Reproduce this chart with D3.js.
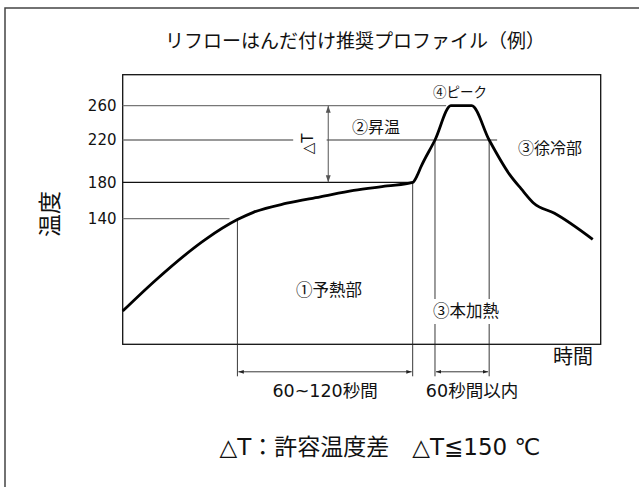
<!DOCTYPE html>
<html>
<head>
<meta charset="utf-8">
<script src="https://cdn.jsdelivr.net/npm/d3@7"></script>
<style>
  body { margin: 0; background: #fff; }
  text { font-family: "DejaVu Sans", "Noto Sans CJK JP", sans-serif; fill: #111; }
  .jp { font-family: "Noto Sans CJK JP", sans-serif; }
</style>
</head>
<body>
<div id="viz"></div>
<script>
// reflow profile, time in s (schematic), temperature in deg C
var curveTime = [0, 21, 52, 72, 82, 103, 124, 145, 166, 182, 185, 187, 196, 206, 219, 230, 243, 250, 258, 271, 295];
var curveTemp = [37, 72, 117, 139, 147, 157, 164, 171, 176, 180, 187, 194, 220, 260, 260, 220, 187, 173, 157, 146, 117];
var tickTemps = [140, 180, 220, 260];

// reference lines: [temp, tStart, tEnd]
var refLines = [[260, 0, 203], [220, 0, 107], [220, 128, 235], [180, 0, 182], [140, 0, 67]];
var preheatSpan = [72, 182];
var mainSpan = [196, 230];
var deltaT = { t: 129, from: 180, to: 260 };

var width = 639, height = 487;
var plot = { left: 122.7, right: 600.7, top: 74.7, bottom: 344.3 };

var svg = d3.select('#viz').append('svg')
    .attr('width', width)
    .attr('height', height);

// outer frame (runs off the page on the right and bottom)
svg.append('rect')
    .attr('x', 5).attr('y', 8)
    .attr('width', 660).attr('height', 500)
    .attr('fill', 'none')
    .attr('stroke', '#444')
    .attr('stroke-width', 1.5);

var x = d3.scaleLinear().domain([0, 300]).range([plot.left, plot.right]);
// the drawing is hand made, so the temperature axis is piecewise
var y = d3.scaleLinear()
    .domain([0, 140, 180, 220, 260, 300])
    .range([plot.bottom, 218.7, 182.3, 140, 105.7, plot.top]);

var defs = svg.append('defs');
function marker(id, color, size) {
    defs.append('marker')
        .attr('id', id)
        .attr('viewBox', '0 0 10 10')
        .attr('refX', 10).attr('refY', 5)
        .attr('markerWidth', size).attr('markerHeight', size)
        .attr('orient', 'auto-start-reverse')
        .append('path')
        .attr('d', 'M0,1.5 L10,5 L0,8.5 Z')
        .attr('fill', color);
}
marker('arr', '#222', 6);
marker('arrg', '#555', 7);

// plot frame
svg.append('rect')
    .attr('x', plot.left).attr('y', plot.top)
    .attr('width', plot.right - plot.left)
    .attr('height', plot.bottom - plot.top)
    .attr('fill', 'none')
    .attr('stroke', '#111')
    .attr('stroke-width', 1.3);

// horizontal reference lines
svg.append('g').selectAll('line')
    .data(refLines).enter()
    .append('line')
        .attr('x1', function(d) { return x(d[1]); })
        .attr('x2', function(d) { return x(d[2]); })
        .attr('y1', function(d) { return y(d[0]); })
        .attr('y2', function(d) { return y(d[0]); })
        .attr('stroke', function(d) { return d[0] === 180 ? '#111' : '#777'; })
        .attr('stroke-width', 1.3);

// vertical guide lines down to the dimension arrows
var dimY = plot.bottom + 27.5;
var guides = [
    { t: preheatSpan[0], temp: 139 },
    { t: preheatSpan[1], temp: 180 },
    { t: mainSpan[0], temp: 220 },
    { t: mainSpan[1], temp: 220 }
];
svg.append('g').selectAll('line')
    .data(guides).enter()
    .append('line')
        .attr('x1', function(d) { return x(d.t); })
        .attr('x2', function(d) { return x(d.t); })
        .attr('y1', function(d) { return y(d.temp); })
        .attr('y2', plot.bottom + 32)
        .attr('stroke', '#222')
        .attr('stroke-width', 0.9);

// dimension arrows
[preheatSpan, mainSpan].forEach(function(s) {
    svg.append('line')
        .attr('x1', x(s[0]) + 1).attr('x2', x(s[1]) - 1)
        .attr('y1', dimY).attr('y2', dimY)
        .attr('stroke', '#222')
        .attr('stroke-width', 0.9)
        .attr('marker-start', 'url(#arr)')
        .attr('marker-end', 'url(#arr)');
});

// delta T arrow
svg.append('line')
    .attr('x1', x(deltaT.t)).attr('x2', x(deltaT.t))
    .attr('y1', y(deltaT.to)).attr('y2', y(deltaT.from))
    .attr('stroke', '#555')
    .attr('stroke-width', 1)
    .attr('marker-start', 'url(#arrg)')
    .attr('marker-end', 'url(#arrg)');

// the profile curve
var records = curveTime.map(function(t, i) { return { t: t, v: curveTemp[i] }; });
var line = d3.line()
    .x(function(d) { return x(d.t); })
    .y(function(d) { return y(d.v); })
    .curve(d3.curveMonotoneX);
svg.append('path')
    .datum(records)
    .attr('d', line)
    .attr('fill', 'none')
    .attr('stroke', '#000')
    .attr('stroke-width', 2.8)
    .attr('stroke-linejoin', 'round');

// tick labels
svg.append('g').selectAll('text')
    .data(tickTemps).enter()
    .append('text')
        .attr('x', 116.5)
        .attr('y', function(d) { return y(d); })
        .attr('dy', '0.36em')
        .attr('text-anchor', 'end')
        .style('font-size', '15px')
        .text(function(d) { return d; });

function label(txt, cx, cy, size, rot, cls) {
    var t = svg.append('text')
        .attr('text-anchor', 'middle')
        .attr('dy', '0.36em')
        .style('font-size', size + 'px')
        .text(txt);
    if (cls) t.attr('class', cls);
    if (rot) t.attr('transform', 'translate(' + cx + ',' + cy + ') rotate(' + rot + ')');
    else t.attr('x', cx).attr('y', cy);
    return t;
}

// white patch where the guides break for the label
svg.append('rect')
    .attr('x', x(mainSpan[0]) - 2).attr('y', 299)
    .attr('width', x(mainSpan[1]) - x(mainSpan[0]) + 4).attr('height', 25)
    .attr('fill', '#fff');

label('リフローはんだ付け推奨プロファイル（例）', 355, 41.5, 19, 0, 'jp');
label('温度', 50, 214, 23, -90, 'jp');
label('②昇温', 376, 127, 16, 0, 'jp');
label('△T', 308, 144, 15, -90);
label('④ピーク', 460, 92, 13.5, 0, 'jp');
label('③徐冷部', 550, 148, 16, 0, 'jp');
label('①予熱部', 329, 290, 16.5, 0, 'jp');
label('③本加熱', 466, 311, 16.5, 0, 'jp');
label('時間', 573, 357, 20, 0, 'jp');
label('60~120秒間', (x(preheatSpan[0]) + x(preheatSpan[1])) / 2, 391, 17.5);
label('60秒間以内', 472, 391, 17.5);
label('△T：許容温度差　△T≦150 ℃', 380, 447, 23);
</script>
</body>
</html>
